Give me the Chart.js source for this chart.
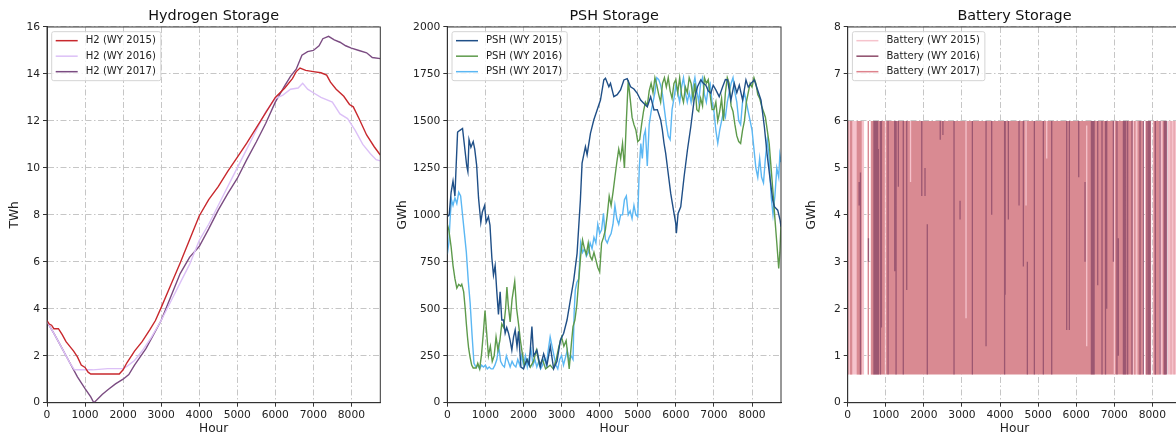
<!DOCTYPE html>
<html lang="en">
<head>
    <meta charset="UTF-8">
    <title>Storage levels by water year</title>
    <script src="https://cdn.jsdelivr.net/npm/chart.js@4.4.0/dist/chart.umd.min.js"></script>
    <style>
        body {
            margin: 0;
            width: 1176px;
            height: 439px;
            overflow: hidden;
            position: relative;
            background: #fff;
        }
        canvas {
            position: absolute;
            top: 0;
        }
    </style>
</head>
<body>
    <canvas id="h2Chart" width="390" height="439" style="left:0px"></canvas>
    <canvas id="pshChart" width="400" height="439" style="left:390px"></canvas>
    <canvas id="batChart" width="410" height="439" style="left:780px"></canvas>

    <script>
        // ticks
        const hourTicks = [0, 1000, 2000, 3000, 4000, 5000, 6000, 7000, 8000];
        const h2Ticks = [0, 2, 4, 6, 8, 10, 12, 14, 16];
        const pshTicks = [0, 250, 500, 750, 1000, 1250, 1500, 1750, 2000];
        const batTicks = [0, 1, 2, 3, 4, 5, 6, 7, 8];

        // Hydrogen storage, TWh  [hour, value]
        const h2_2015 = [[0,3.5],[60,3.35],[120,3.3],[180,3.15],[300,3.15],[400,2.9],[500,2.6],[600,2.4],[700,2.2],[800,1.95],[900,1.6],[1000,1.5],[1080,1.3],[1150,1.22],[1900,1.22],[2000,1.4],[2100,1.7],[2300,2.2],[2500,2.6],[2700,3.1],[2850,3.5],[3000,4.05],[3250,5.0],[3500,5.95],[3750,6.95],[4000,7.95],[4250,8.65],[4500,9.2],[4750,9.85],[5000,10.45],[5250,11.05],[5500,11.7],[5750,12.35],[6000,13.0],[6250,13.4],[6450,13.8],[6550,14.1],[6650,14.25],[6800,14.15],[7000,14.1],[7200,14.05],[7350,13.95],[7450,13.65],[7600,13.35],[7800,13.05],[7950,12.7],[8050,12.6],[8200,12.1],[8400,11.4],[8600,10.9],[8760,10.55]];
        const h2_2016 = [[0,3.45],[200,2.9],[400,2.3],[600,1.7],[720,1.4],[1200,1.4],[1600,1.45],[2000,1.45],[2100,1.55],[2300,1.8],[2500,2.2],[2750,2.8],[3000,3.5],[3250,4.3],[3500,5.1],[3750,5.9],[4000,6.9],[4250,7.6],[4500,8.4],[4750,9.2],[5000,10.0],[5250,10.8],[5500,11.6],[5750,12.4],[6000,12.95],[6200,13.1],[6400,13.35],[6600,13.4],[6720,13.6],[6850,13.35],[7000,13.2],[7200,13.0],[7500,12.8],[7700,12.3],[7900,12.1],[8100,11.6],[8300,11.0],[8500,10.6],[8650,10.35],[8760,10.3]];
        const h2_2017 = [[0,3.45],[200,2.9],[400,2.3],[600,1.7],[800,1.1],[1000,0.6],[1150,0.25],[1230,0.0],[1300,0.1],[1450,0.35],[1600,0.55],[1800,0.8],[2000,1.0],[2150,1.2],[2300,1.6],[2450,1.95],[2600,2.3],[2800,2.9],[3000,3.5],[3250,4.5],[3500,5.5],[3750,6.2],[4000,6.65],[4250,7.4],[4500,8.2],[4750,8.9],[5000,9.55],[5250,10.35],[5500,11.1],[5750,11.9],[6000,12.8],[6250,13.5],[6400,13.9],[6550,14.2],[6700,14.8],[6850,14.95],[7000,15.0],[7150,15.2],[7250,15.5],[7400,15.6],[7550,15.45],[7700,15.35],[7850,15.2],[8000,15.1],[8200,15.0],[8400,14.9],[8550,14.7],[8760,14.65]];

        // PSH storage, GWh  [hour, value]
        const psh_2015 = [[0,990],[50,1000],[100,1120],[150,1180],[200,1100],[230,1250],[270,1440],[330,1450],[400,1460],[450,1370],[510,1260],[540,1230],[570,1400],[620,1360],[680,1390],[720,1350],[770,1265],[820,1090],[880,960],[920,1015],[980,1050],[1020,960],[1080,990],[1120,945],[1170,770],[1212,680],[1256,730],[1300,590],[1343,470],[1387,590],[1430,440],[1475,440],[1519,370],[1560,400],[1607,370],[1650,330],[1694,280],[1740,350],[1782,387],[1830,300],[1870,380],[1932,190],[2002,180],[2090,230],[2150,200],[2221,405],[2265,250],[2353,280],[2441,190],[2529,260],[2616,200],[2704,300],[2792,180],[2880,220],[2968,333],[3055,370],[3143,440],[3231,547],[3319,653],[3407,795],[3494,1080],[3538,1275],[3626,1363],[3670,1320],[3758,1434],[3845,1505],[3933,1558],[4021,1611],[4109,1718],[4153,1727],[4241,1682],[4284,1700],[4372,1629],[4460,1640],[4548,1665],[4636,1718],[4723,1725],[4811,1682],[4899,1670],[4987,1647],[5075,1611],[5162,1593],[5250,1576],[5338,1629],[5426,1558],[5514,1560],[5601,1505],[5645,1452],[5689,1381],[5733,1327],[5777,1256],[5865,1114],[5909,1060],[5953,1007],[5997,955],[6014,902],[6058,1007],[6128,1043],[6216,1203],[6304,1345],[6392,1469],[6479,1611],[6567,1682],[6655,1718],[6720,1700],[6787,1690],[6850,1660],[6918,1647],[6980,1690],[7050,1665],[7138,1629],[7226,1680],[7300,1720],[7357,1718],[7445,1611],[7533,1700],[7600,1650],[7665,1690],[7752,1611],[7840,1718],[7900,1680],[7972,1700],[8060,1718],[8147,1665],[8235,1611],[8323,1469],[8393,1327],[8455,1221],[8543,1079],[8587,1043],[8674,1025],[8736,972],[8760,937]];
        const psh_2016 = [[0,950],[40,920],[100,830],[150,730],[200,660],[250,610],[300,630],[350,620],[380,630],[430,590],[470,500],[500,420],[530,350],[560,290],[600,240],[640,200],[680,185],[760,185],[800,210],[850,180],[900,260],[950,380],[990,490],[1030,380],[1080,250],[1130,300],[1180,220],[1230,250],[1280,350],[1330,280],[1380,330],[1430,420],[1480,400],[1530,500],[1565,615],[1600,520],[1650,430],[1700,550],[1770,645],[1820,500],[1870,420],[1920,330],[1970,260],[2020,200],[2100,230],[2180,190],[2260,220],[2340,280],[2420,200],[2500,230],[2580,180],[2700,200],[2780,180],[2860,230],[2930,300],[3000,350],[3060,300],[3120,330],[3200,180],[3260,320],[3300,405],[3350,440],[3400,520],[3450,650],[3500,780],[3550,866],[3600,820],[3650,790],[3700,850],[3750,780],[3800,760],[3850,800],[3900,760],[3950,720],[4000,697],[4050,850],[4100,880],[4150,920],[4200,1000],[4250,1100],[4300,1050],[4350,1120],[4400,1200],[4450,1280],[4500,1350],[4550,1300],[4600,1380],[4650,1250],[4700,1500],[4750,1718],[4800,1620],[4850,1520],[4900,1480],[4950,1452],[5000,1390],[5050,1400],[5100,1480],[5150,1550],[5200,1600],[5250,1580],[5300,1660],[5350,1700],[5400,1650],[5450,1730],[5500,1690],[5550,1640],[5600,1600],[5650,1700],[5700,1730],[5750,1680],[5800,1730],[5850,1660],[5900,1620],[5950,1700],[6000,1720],[6050,1650],[6100,1730],[6150,1640],[6200,1600],[6250,1680],[6300,1650],[6350,1730],[6400,1700],[6450,1620],[6500,1700],[6550,1560],[6600,1550],[6650,1620],[6700,1580],[6750,1730],[6800,1700],[6850,1720],[6900,1640],[6950,1560],[7000,1560],[7050,1600],[7100,1500],[7150,1550],[7200,1620],[7250,1500],[7300,1650],[7350,1730],[7400,1700],[7450,1580],[7500,1550],[7550,1480],[7600,1420],[7650,1390],[7700,1380],[7750,1450],[7800,1500],[7850,1600],[7900,1650],[7950,1700],[8000,1680],[8050,1730],[8100,1700],[8150,1640],[8200,1620],[8250,1580],[8300,1550],[8350,1520],[8400,1450],[8450,1380],[8500,1250],[8550,1120],[8600,980],[8650,850],[8700,715],[8730,800],[8760,950]];
        const psh_2017 = [[0,790],[40,850],[80,1000],[110,1080],[150,1050],[200,1090],[250,1060],[300,1120],[350,1100],[400,1000],[450,900],[500,800],[550,650],[600,530],[650,360],[700,210],[750,190],[800,200],[850,180],[900,200],[950,190],[1000,200],[1050,180],[1100,190],[1150,180],[1200,180],[1250,200],[1300,230],[1350,300],[1400,220],[1450,200],[1500,190],[1550,250],[1600,220],[1650,190],[1700,220],[1750,200],[1800,190],[1850,230],[1900,200],[1950,250],[2000,200],[2050,250],[2100,190],[2150,240],[2200,280],[2250,200],[2300,230],[2350,190],[2400,220],[2450,180],[2500,200],[2550,240],[2600,200],[2650,280],[2700,350],[2750,300],[2800,250],[2850,200],[2900,180],[2950,230],[3000,250],[3050,200],[3100,240],[3150,280],[3200,220],[3250,250],[3300,230],[3330,480],[3360,600],[3400,640],[3450,660],[3500,850],[3550,800],[3600,820],[3650,780],[3700,800],[3750,850],[3800,820],[3850,880],[3900,850],[3950,950],[4000,900],[4050,920],[4100,1008],[4150,870],[4200,850],[4250,880],[4300,900],[4350,950],[4400,1050],[4450,980],[4500,950],[4550,1000],[4600,1000],[4650,1080],[4700,1100],[4750,1000],[4800,1020],[4850,980],[4900,1050],[4950,1000],[5000,990],[5040,1250],[5080,1380],[5120,1300],[5160,1420],[5200,1450],[5250,1260],[5300,1480],[5350,1550],[5400,1600],[5450,1650],[5500,1730],[5550,1720],[5600,1690],[5650,1640],[5700,1560],[5750,1480],[5800,1420],[5850,1400],[5900,1560],[5950,1620],[6000,1690],[6050,1650],[6100,1600],[6150,1680],[6200,1730],[6250,1650],[6300,1600],[6350,1650],[6400,1600],[6450,1680],[6500,1730],[6550,1660],[6600,1600],[6650,1700],[6700,1730],[6750,1640],[6800,1600],[6850,1680],[6900,1700],[6950,1600],[7000,1550],[7050,1450],[7100,1381],[7150,1450],[7200,1500],[7250,1550],[7300,1520],[7350,1600],[7400,1650],[7450,1700],[7500,1730],[7550,1650],[7600,1600],[7650,1500],[7700,1480],[7750,1600],[7800,1650],[7850,1600],[7900,1550],[7950,1500],[8000,1450],[8050,1350],[8100,1250],[8150,1200],[8200,1300],[8250,1200],[8300,1170],[8350,1300],[8400,1400],[8450,1300],[8500,1100],[8550,1000],[8600,1100],[8650,1250],[8700,1200],[8730,1320],[8760,1280]];

        // Battery storage, GWh: the series swing between these two levels hour by hour
        const batMin = 0.6;
        const batMax = 6;
        // hour ranges where a series cycles over the full band [start, end]
        const bat2015Spans = [[0,430],[525,560],[600,700],[960,1000],[7450,7770],[7805,7970],[8010,8380],[8410,8760]];
        const bat2017Spans = [[0,20],[60,120],[236,368],[525,560],[613,975],[1005,7480],[7520,7560],[7610,7745],[7830,7965],[8030,8180],[8270,8360],[8480,8500],[8560,8580],[8650,8760]];
        // single swings that stand out [hour, low, high]
        const bat2015Swings = [[1650,4.7,6],[3107,1.8,6],[4683,4.2,6],[5226,5.2,6],[6276,1.2,5.9],[7002,0.6,6]];
        const bat2016Swings = [[300,4.2,4.7],[335,0.6,4.9],[545,3.0,3.5],[690,0.6,6],[705,0.6,6],[720,0.6,6],[738,0.6,6],[752,0.6,6],[768,0.6,6],[785,0.6,6],[805,0.6,5.4],[860,0.6,6],[885,1.6,6],[1060,0.6,6],[1235,2.8,6],[1270,0.6,6],[1330,4.6,6],[1460,0.6,6],[1550,2.4,6],[1945,4.4,6],[2030,4.4,5.0],[2090,0.6,3.8],[2430,5.6,6],[2500,5.7,6],[2792,0.6,6],[2950,3.9,4.3],[3274,0.6,6],[3633,1.2,6],[3781,4.0,6],[4120,0.6,6],[4135,2.3,6],[4219,3.9,6],[4499,4.2,6],[4613,2.9,6],[4718,0.6,3.0],[4902,0.6,6],[5138,0.6,6],[5357,0.6,6],[5751,1.55,6],[5820,1.55,6],[6066,4.8,6],[6232,3.0,4.7],[6400,0.6,6],[6415,0.6,6],[6430,0.6,6],[6450,0.6,6],[6470,0.6,6],[6565,2.5,6],[6678,0.6,6],[6770,0.6,6],[6801,2.0,6],[6976,3.0,6],[7070,0.6,6],[7107,1.0,3.5],[7240,0.6,6],[7265,0.6,6],[7300,0.6,6],[7352,0.6,6],[7466,0.6,6],[7676,0.6,6],[7764,0.6,6],[7860,0.6,6],[7904,0.6,6],[7939,0.6,6],[8079,0.6,6],[8201,0.6,6],[8315,0.6,6],[8345,0.6,6],[8376,0.6,6]];

        const h2Names = ['H2 (WY 2015)', 'H2 (WY 2016)', 'H2 (WY 2017)'];
        const pshNames = ['PSH (WY 2015)', 'PSH (WY 2016)', 'PSH (WY 2017)'];
        const batNames = ['Battery (WY 2015)', 'Battery (WY 2016)', 'Battery (WY 2017)'];

        const h2Colors = ['#c8282d', '#dcc0f7', '#7b4c82'];
        const pshColors = ['#1f4f87', '#5d9a4b', '#5bb7f3'];
        const batColors = ['#f6c3cc', '#8c4a69', '#de838d'];

        Chart.defaults.font.family = "'DejaVu Sans', sans-serif";
        Chart.defaults.color = '#222';

        // spans -> outline of filled blocks between batMin and batMax
        function spanPoints(spans) {
            const pts = [];
            spans.forEach(([a, b]) => {
                pts.push([a, batMin], [a, batMax], [b, batMax], [b, batMin]);
            });
            return pts;
        }
        // swings -> separate vertical strokes
        function swingPoints(swings) {
            const pts = [];
            swings.forEach(([h, lo, hi]) => {
                pts.push([h, lo], [h, hi], [h, null]);
            });
            return pts;
        }

        // matplotlib style frame and legend box
        const mplFrame = {
            id: 'mplFrame',
            afterDraw(chart, args, opts) {
                const {ctx, chartArea} = chart;
                ctx.save();
                ctx.strokeStyle = '#333';
                ctx.lineWidth = 1;
                ctx.strokeRect(chartArea.left, chartArea.top, chartArea.right - chartArea.left, chartArea.bottom - chartArea.top);

                const items = opts.items;
                ctx.font = "10.1px 'DejaVu Sans'";
                const textW = Math.max(...items.map(it => ctx.measureText(it.text).width));
                const x0 = chartArea.left + 4.7;
                const y0 = chartArea.top + 4.7;
                const w = 34 + textW + 5;
                const h = 49;
                ctx.beginPath();
                ctx.roundRect(x0, y0, w, h, 2);
                ctx.fillStyle = 'rgba(255,255,255,0.8)';
                ctx.fill();
                ctx.strokeStyle = '#d4d4d4';
                ctx.stroke();
                items.forEach((it, i) => {
                    const y = y0 + 9 + i * 15.5;
                    ctx.strokeStyle = it.color;
                    ctx.lineWidth = 1.5;
                    ctx.beginPath();
                    ctx.moveTo(x0 + 4, y);
                    ctx.lineTo(x0 + 26, y);
                    ctx.stroke();
                    ctx.fillStyle = '#222';
                    ctx.textBaseline = 'middle';
                    ctx.fillText(it.text, x0 + 34, y);
                });
                ctx.restore();
            }
        };

        function scales(yMax, yTicks, yTitle, yWidth, yTitlePad) {
            const grid = {
                color: '#c6c6c6',
                lineWidth: 1,
                tickColor: '#333',
                tickLength: 4,
                tickWidth: 1
            };
            const border = { color: '#333', width: 1, dash: [6, 2.5, 1.5, 2.5] };
            const plain = v => String(v);
            return {
                x: {
                    type: 'linear',
                    min: 0,
                    max: 8760,
                    afterBuildTicks: s => { s.ticks = hourTicks.map(v => ({ value: v })); },
                    afterFit: s => { s.height = 36.3; },
                    ticks: { font: { size: 10.7 }, padding: 2, maxRotation: 0, callback: plain },
                    grid: grid,
                    border: border,
                    title: { display: true, text: 'Hour', font: { size: 12.2 }, padding: { top: 0, bottom: 2.7 } }
                },
                y: {
                    min: 0,
                    max: yMax,
                    afterBuildTicks: s => { s.ticks = yTicks.map(v => ({ value: v })); },
                    afterFit: s => { s.width = yWidth; },
                    ticks: { font: { size: 10.7 }, padding: 3, callback: plain },
                    grid: grid,
                    border: border,
                    title: { display: true, text: yTitle, font: { size: 12.2 }, padding: { top: yTitlePad, bottom: 0 } }
                }
            };
        }

        function options(title, padRight, axes, names, colors) {
            return {
                responsive: false,
                animation: false,
                layout: { padding: { left: 0, right: padRight, top: 0, bottom: 0 } },
                elements: { point: { radius: 0 }, line: { tension: 0 } },
                plugins: {
                    legend: { display: false },
                    tooltip: { enabled: false },
                    title: {
                        display: true,
                        text: title,
                        fullSize: false,
                        color: '#111',
                        font: { size: 14.4, weight: 'normal' },
                        padding: { top: 7.4, bottom: 2.3 }
                    },
                    mplFrame: { items: names.map((n, i) => ({ text: n, color: colors[i] })) }
                },
                scales: axes
            };
        }

        function lineSet(label, data, color) {
            return { label: label, data: data, borderColor: color, borderWidth: 1.4, fill: false };
        }

        // Hydrogen storage
        new Chart(document.getElementById('h2Chart'), {
            type: 'line',
            data: {
                datasets: [
                    lineSet(h2Names[0], h2_2015, h2Colors[0]),
                    lineSet(h2Names[1], h2_2016, h2Colors[1]),
                    lineSet(h2Names[2], h2_2017, h2Colors[2])
                ]
            },
            options: options('Hydrogen Storage', 9.7, scales(16, h2Ticks, 'TWh', 47, 7.7), h2Names, h2Colors),
            plugins: [mplFrame]
        });

        // PSH storage
        new Chart(document.getElementById('pshChart'), {
            type: 'line',
            data: {
                datasets: [
                    lineSet(pshNames[0], psh_2015, pshColors[0]),
                    lineSet(pshNames[1], psh_2016, pshColors[1]),
                    lineSet(pshNames[2], psh_2017, pshColors[2])
                ]
            },
            options: options('PSH Storage', 9, scales(2000, pshTicks, 'GWh', 57.3, 6), pshNames, pshColors),
            plugins: [mplFrame]
        });

        // Battery storage
        new Chart(document.getElementById('batChart'), {
            type: 'line',
            data: {
                datasets: [
                    { label: batNames[0], data: spanPoints(bat2015Spans), borderWidth: 0, backgroundColor: batColors[0], fill: { value: batMin }, order: 5 },
                    { label: batNames[2], data: spanPoints(bat2017Spans), borderWidth: 0, backgroundColor: '#d98a92', fill: { value: batMin }, order: 4 },
                    { label: batNames[0], data: swingPoints(bat2015Swings), borderColor: batColors[0], borderWidth: 1.3, fill: false, order: 3 },
                    { label: batNames[1], data: swingPoints(bat2016Swings), borderColor: 'rgba(140,74,105,0.8)', borderWidth: 1.3, fill: false, order: 2 }
                ]
            },
            options: options('Battery Storage', 8.7, scales(8, batTicks, 'GWh', 67.7, 24.4), batNames, batColors),
            plugins: [mplFrame]
        });
    </script>
</body>
</html>
